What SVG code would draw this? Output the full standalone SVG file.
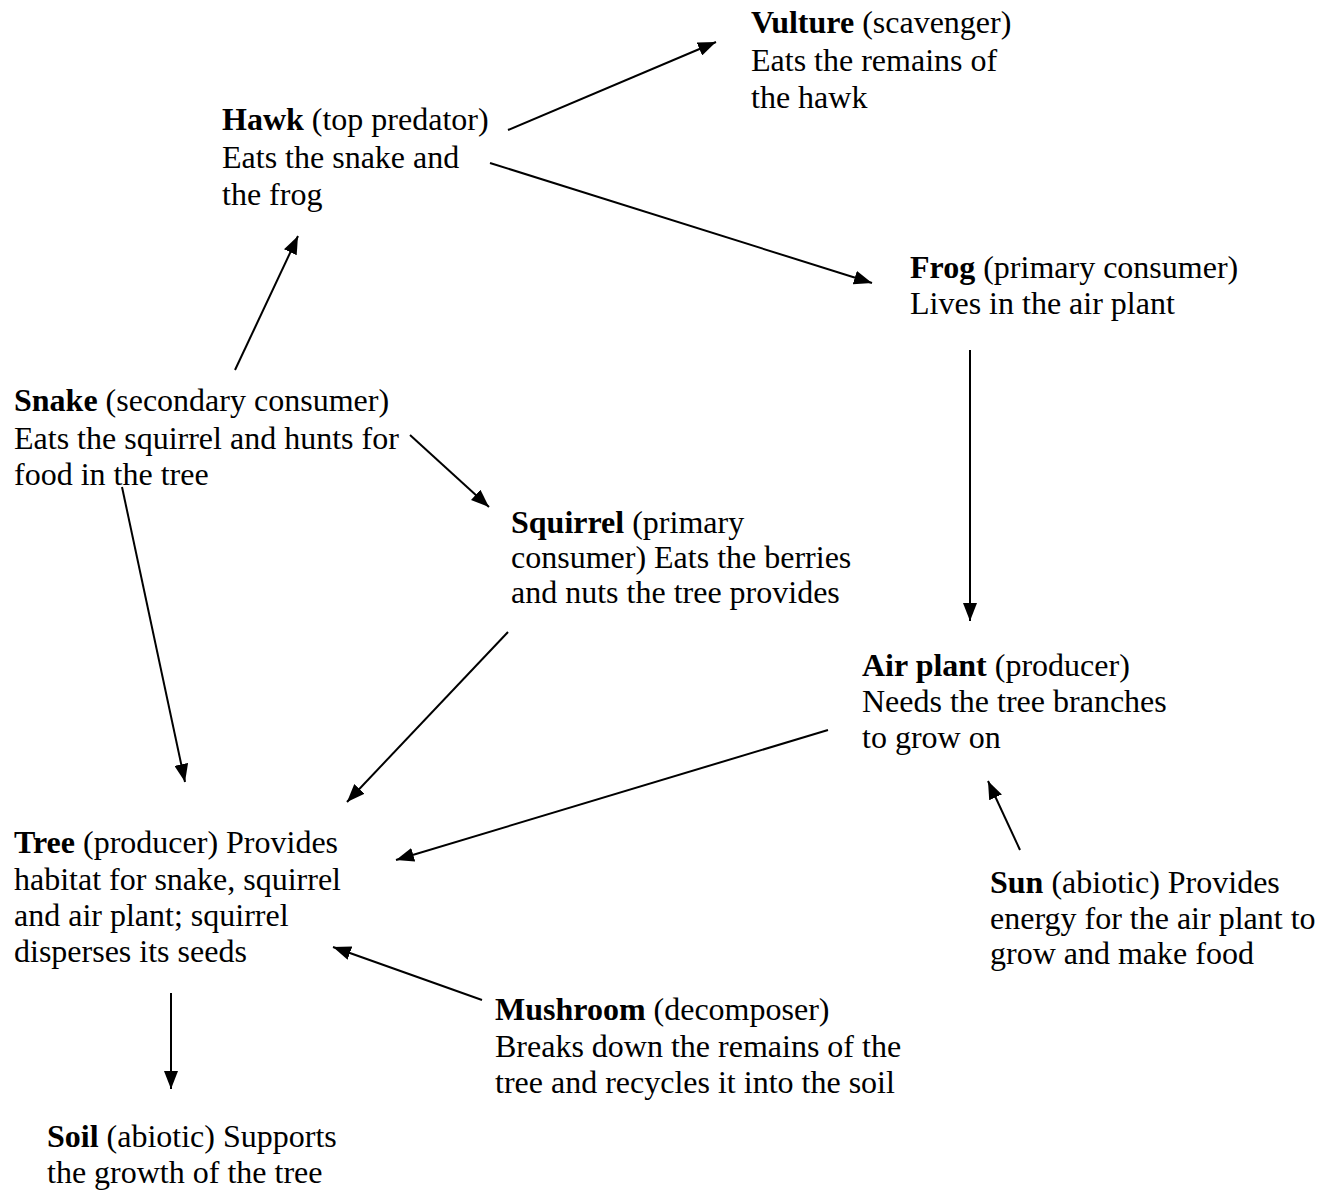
<svg xmlns="http://www.w3.org/2000/svg" width="1334" height="1195" viewBox="0 0 1334 1195">
<style>
text{font-family:"Liberation Serif","Times New Roman",serif;font-size:32px;fill:#000}
.b{font-weight:bold}
.c line{stroke:#000;stroke-width:2}
</style>
<defs>
<marker id="ah" viewBox="0 0 18 14" refX="18" refY="7" markerWidth="18" markerHeight="14" markerUnits="userSpaceOnUse" orient="auto">
<path d="M0,0 L18,7 L0,14 z" fill="#000"/>
</marker>
</defs>
<rect width="1334" height="1195" fill="#fff"/>
<g class="c">
<line x1="508" y1="130" x2="716" y2="42" marker-end="url(#ah)"/>
<line x1="490" y1="163" x2="872" y2="283" marker-end="url(#ah)"/>
<line x1="235" y1="370" x2="298" y2="236" marker-end="url(#ah)"/>
<line x1="410" y1="435" x2="489" y2="507" marker-end="url(#ah)"/>
<line x1="122" y1="487" x2="185" y2="782" marker-end="url(#ah)"/>
<line x1="970" y1="350" x2="970" y2="621" marker-end="url(#ah)"/>
<line x1="508" y1="632" x2="347" y2="802" marker-end="url(#ah)"/>
<line x1="828" y1="730" x2="396" y2="860" marker-end="url(#ah)"/>
<line x1="1020" y1="850" x2="988" y2="781" marker-end="url(#ah)"/>
<line x1="482" y1="1000" x2="333" y2="947" marker-end="url(#ah)"/>
<line x1="171" y1="993" x2="171" y2="1089" marker-end="url(#ah)"/>
</g>
<g id="vulture"><text x="751" y="33"><tspan class="b">Vulture</tspan> (scavenger)</text><text x="751" y="71">Eats the remains of</text><text x="751" y="108">the hawk</text></g>
<g id="hawk"><text x="222" y="130"><tspan class="b">Hawk</tspan> (top predator)</text><text x="222" y="168">Eats the snake and</text><text x="222" y="205">the frog</text></g>
<g id="frog"><text x="910" y="278"><tspan class="b">Frog</tspan> (primary consumer)</text><text x="910" y="314">Lives in the air plant</text></g>
<g id="snake"><text x="14" y="411"><tspan class="b">Snake</tspan> (secondary consumer)</text><text x="14" y="449">Eats the squirrel and hunts for</text><text x="14" y="485">food in the tree</text></g>
<g id="squirrel"><text x="511" y="533"><tspan class="b">Squirrel</tspan> (primary</text><text x="511" y="568">consumer) Eats the berries</text><text x="511" y="603">and nuts the tree provides</text></g>
<g id="airplant"><text x="862" y="676"><tspan class="b">Air plant</tspan> (producer)</text><text x="862" y="712">Needs the tree branches</text><text x="862" y="748">to grow on</text></g>
<g id="tree"><text x="14" y="853"><tspan class="b">Tree</tspan> (producer) Provides</text><text x="14" y="890">habitat for snake, squirrel</text><text x="14" y="926">and air plant; squirrel</text><text x="14" y="962">disperses its seeds</text></g>
<g id="sun"><text x="990" y="893"><tspan class="b">Sun</tspan> (abiotic) Provides</text><text x="990" y="929">energy for the air plant to</text><text x="990" y="964">grow and make food</text></g>
<g id="mushroom"><text x="495" y="1020"><tspan class="b">Mushroom</tspan> (decomposer)</text><text x="495" y="1057">Breaks down the remains of the</text><text x="495" y="1093">tree and recycles it into the soil</text></g>
<g id="soil"><text x="47" y="1147"><tspan class="b">Soil</tspan> (abiotic) Supports</text><text x="47" y="1183">the growth of the tree</text></g>
</svg>
